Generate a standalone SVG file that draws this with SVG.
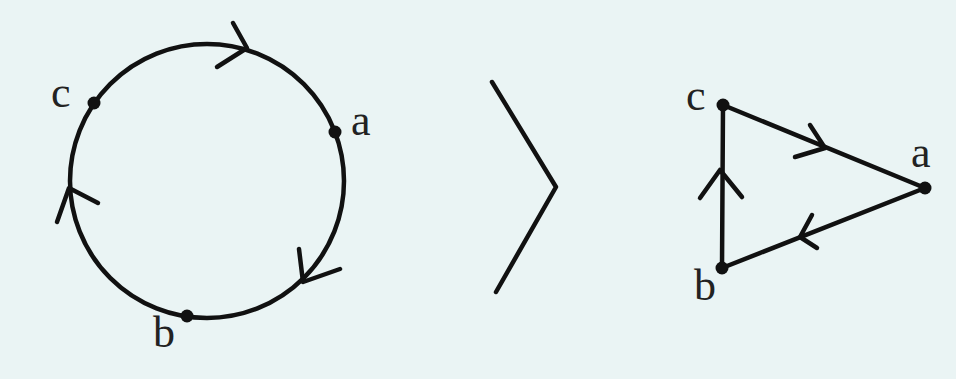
<svg xmlns="http://www.w3.org/2000/svg" width="956" height="379" viewBox="0 0 956 379">
<style>
.ln{fill:none;stroke:#111;stroke-width:4.5;stroke-linecap:round;stroke-linejoin:round}
.dot{fill:#111}
.lb{font-family:"Liberation Serif","Times New Roman",serif;font-size:44px;fill:#222}
</style>
<rect width="956" height="379" fill="#EAF4F4"/>
<g id="connectors">
<circle class="ln" cx="207" cy="181" r="137"/>
<polyline class="ln" points="233,23 247,48 217,67"/>
<polyline class="ln" points="57,222 69,188 98,203"/>
<polyline class="ln" points="299,249 303,282 340,269"/>
<polyline class="ln" points="492,82 556,187 496,292"/>
<line class="ln" x1="723" y1="105" x2="925" y2="188"/>
<line class="ln" x1="925" y1="188" x2="722" y2="268"/>
<line class="ln" x1="722" y1="268" x2="723" y2="105"/>
<polyline class="ln" points="810,125 825,148 795,157"/>
<polyline class="ln" points="812,215 800,237 817,248"/>
<polyline class="ln" points="700,198 720,170 742,197"/>
</g>
<g id="circle-c"><circle class="dot" cx="94" cy="103" r="6.5"/><text class="lb" x="51" y="107">c</text></g>
<g id="circle-a"><circle class="dot" cx="335" cy="132" r="6.5"/><text class="lb" x="351" y="135">a</text></g>
<g id="circle-b"><circle class="dot" cx="187" cy="316" r="6.5"/><text class="lb" x="153" y="347">b</text></g>
<g id="tri-c"><circle class="dot" cx="723" cy="105" r="6.5"/><text class="lb" x="686" y="110">c</text></g>
<g id="tri-a"><circle class="dot" cx="925" cy="188" r="6.5"/><text class="lb" x="911" y="167">a</text></g>
<g id="tri-b"><circle class="dot" cx="722" cy="268" r="6.5"/><text class="lb" x="694" y="300">b</text></g>
</svg>
